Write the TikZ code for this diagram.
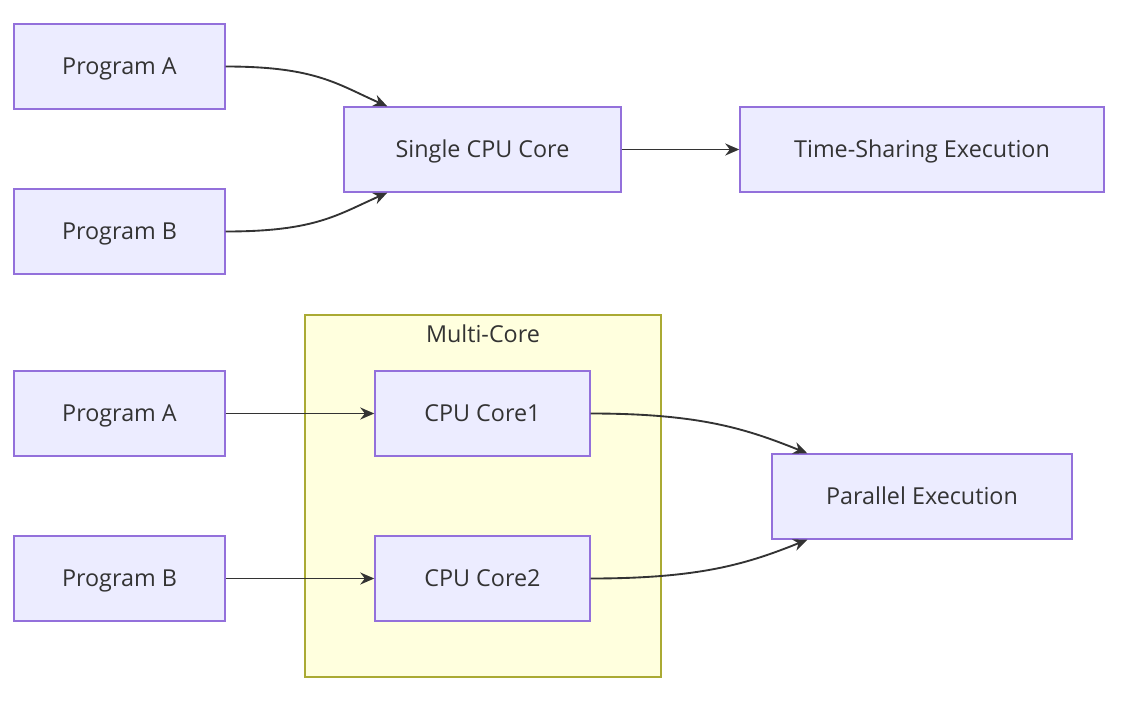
\documentclass[tikz,border=0pt]{standalone}
\usepackage{fontspec}
\setmainfont{Open Sans}
\usetikzlibrary{arrows.meta, positioning, calc}
\definecolor{nodefill}{HTML}{ECECFF}
\definecolor{nodeline}{HTML}{9370DB}
\definecolor{groupfill}{HTML}{FFFFDE}
\definecolor{groupline}{HTML}{AAAA33}
\definecolor{inkgray}{HTML}{333333}

\begin{document}
\begin{tikzpicture}[
    x=0.75pt, y=-0.75pt,
    >={Stealth[length=10.5pt, width=9pt]},
    procbox/.style={draw=nodeline, fill=nodefill, line width=1.1pt,
        minimum height=63.75pt, inner sep=0pt, font=\fontsize{17.5}{20}\selectfont,
        text=inkgray, text height=13pt, text depth=1.5pt},
    flow/.style={->, inkgray, line width=1.4pt}
]
    \useasboundingbox (0,0) rectangle (1122,711);

    % single core
    \node[procbox, minimum width=158.25pt] (progA) at (119.5,66.5) {Program A};
    \node[procbox, minimum width=158.25pt] (progB) at (119.5,231.5) {Program B};
    \node[procbox, minimum width=207.75pt] (single) at (482.5,149.5) {Single CPU Core};
    \node[procbox, minimum width=273pt] (timeshare) at (922,149.5) {Time-Sharing Execution};

    % multi core
    \node[draw=groupline, fill=groupfill, line width=1.1pt, minimum width=267pt,
        minimum height=271.5pt, inner sep=0pt] (multi) at (483,496) {};
    \node[font=\fontsize{17.5}{20}\selectfont, text=inkgray] (multilabel) at (483,334) {Multi-Core};
    \node[procbox, minimum width=158.25pt] (progA2) at (119.5,413.5) {Program A};
    \node[procbox, minimum width=158.25pt] (progB2) at (119.5,578.5) {Program B};
    \node[procbox, minimum width=161.25pt] (core1) at (482.5,413.5) {CPU Core1};
    \node[procbox, minimum width=161.25pt] (core2) at (482.5,578.5) {CPU Core2};
    \node[procbox, minimum width=225pt] (parallel) at (922,496.5) {Parallel Execution};

    \draw[flow] (progA.east) .. controls +(90,0) and +(-50,-22) .. ([xshift=33pt]single.north west);
    \draw[flow] (progB.east) .. controls +(90,0) and +(-50,22) .. ([xshift=33pt]single.south west);
    \draw[flow] (single.east) -- (timeshare.west);

    \draw[flow] (progA2.east) -- (core1.west);
    \draw[flow] (progB2.east) -- (core2.west);
    \draw[flow] (core1.east) .. controls +(110,0) and +(-60,-24) .. ([xshift=27pt]parallel.north west);
    \draw[flow] (core2.east) .. controls +(110,0) and +(-60,24) .. ([xshift=27pt]parallel.south west);
\end{tikzpicture}
\end{document}
